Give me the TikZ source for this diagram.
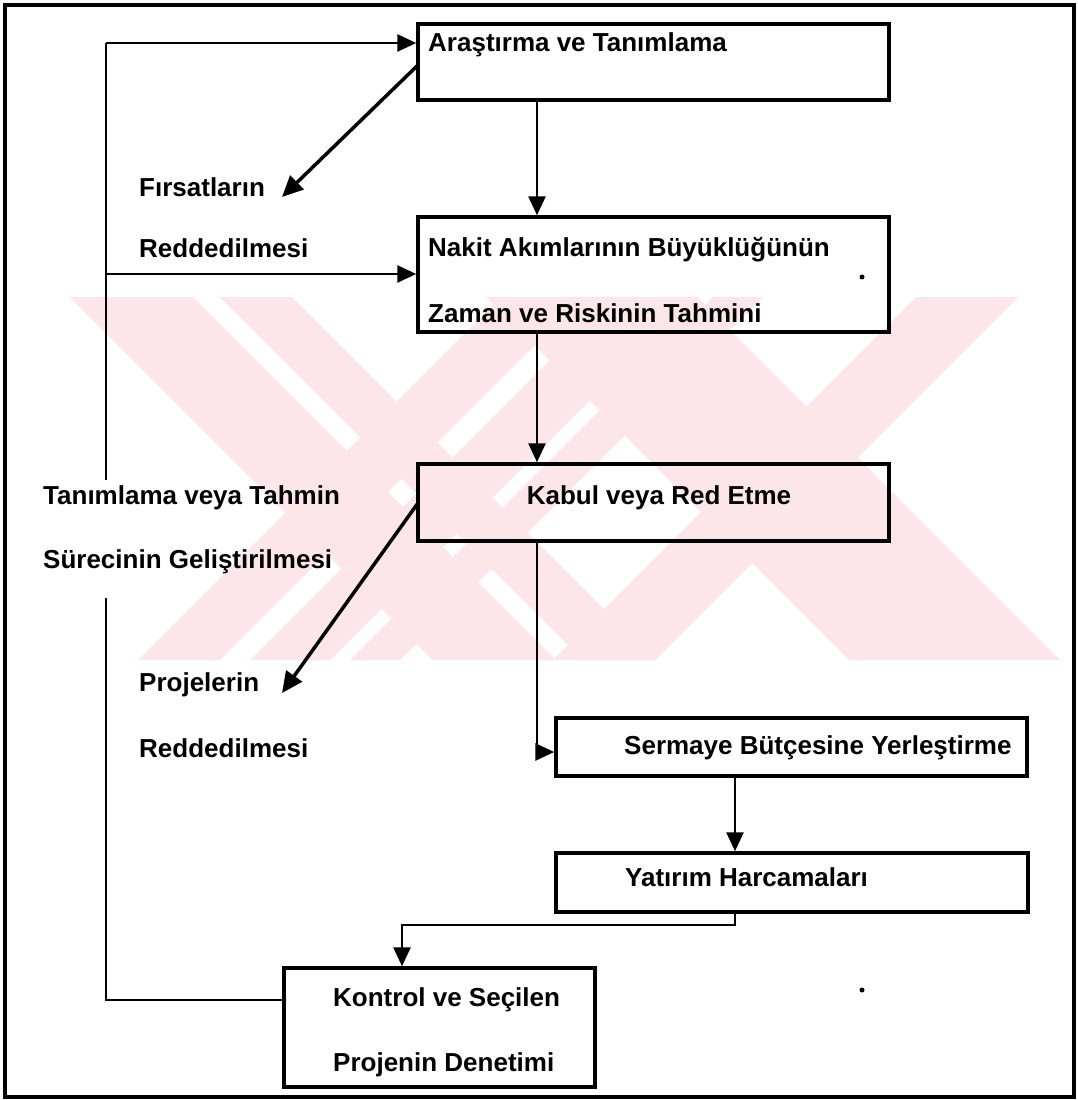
\documentclass[tikz,border=0pt]{standalone}
\usepackage{fontspec}
\setmainfont{Liberation Sans}
\usetikzlibrary{arrows.meta}
\definecolor{wmpink}{RGB}{252,230,234}
\begin{document}
\begin{tikzpicture}[x=1pt,y=-1pt,
  box/.style={draw=black,line width=3.5pt,rectangle,inner sep=0pt},
  lab/.style={font=\fontsize{26}{30}\selectfont\bfseries,inner sep=0pt,anchor=west},
  conn/.style={draw=black,line width=2.8pt,-{Triangle[length=19pt,width=17pt]}},
  plain/.style={draw=black,line width=2.8pt},
  diag/.style={draw=black,line width=3.5pt,-{Triangle[length=21pt,width=19pt]}}]
\useasboundingbox (0,0) rectangle (1077,1100);
\fill[white] (0,0) rectangle (1077,1100);
% faint watermark (diagonal stripes forming an X)
\begin{scope}
\clip (0,297) rectangle (1077,660);
\foreach \a/\b in {-227/-104,-77/-5,189/400}
  \fill[wmpink] (297+\a,297) -- (297+\b,297) -- (660+\b,660) -- (660+\a,660) -- cycle;
\foreach \a/\b in {798/880,910/990,1010/1060,1213/1315}
  \fill[wmpink] (\a-297,297) -- (\b-297,297) -- (\b-660,660) -- (\a-660,660) -- cycle;
\end{scope}
% outer frame
\node[draw=black,line width=4.5pt,minimum width=1069pt,minimum height=1092pt,inner sep=0pt] (frame) at (539.5,551) {};
% boxes
\node[box,minimum width=471pt,minimum height=76pt] (b1) at (653.5,62) {};
\node[box,minimum width=471pt,minimum height=115pt] (b2) at (653.5,274.5) {};
\node[box,minimum width=471pt,minimum height=77pt] (b3) at (653.5,502.5) {};
\node[box,minimum width=471pt,minimum height=58pt] (b4) at (791.5,747) {};
\node[box,minimum width=472pt,minimum height=59pt] (b5) at (792,882.5) {};
\node[box,minimum width=311pt,minimum height=119pt] (b6) at (439.5,1027.5) {};
% box texts
\node[lab] (t1) at (428,45) {Araştırma ve Tanımlama};
\node[lab] (t2a) at (428,250) {Nakit Akımlarının Büyüklüğünün};
\node[lab] (t2b) at (428,313) {Zaman ve Riskinin Tahmini};
\node[lab,anchor=center] (t3) at (659,498) {Kabul veya Red Etme};
\node[lab] (t4) at (624,748) {Sermaye Bütçesine Yerleştirme};
\node[lab] (t5) at (625,877) {Yatırım Harcamaları};
\node[lab] (t6a) at (333,1000) {Kontrol ve Seçilen};
\node[lab] (t6b) at (333,1065) {Projenin Denetimi};
% side texts
\node[lab] (f1) at (139,187) {Fırsatların};
\node[lab] (f2) at (139,248) {Reddedilmesi};
\node[lab] (p1) at (139,685) {Projelerin};
\node[lab] (p2) at (139,748) {Reddedilmesi};
\node[lab] (g1) at (43,498) {Tanımlama veya Tahmin};
\node[lab] (g2) at (43,562) {Sürecinin Geliştirilmesi};
% coordinates
\coordinate (d1s) at (418,65);
\coordinate (d1e) at (282,197);
\coordinate (d2s) at (418,503);
\coordinate (d2e) at (282,693);
\coordinate (fbtop) at (106,43);
\coordinate (fbmid) at (106,274);
\coordinate (fbgapT) at (106,480);
\coordinate (fbgapB) at (106,598);
\coordinate (fbbot) at (106,1000);
% main flow
\draw[conn] (b1.south -| 537,0) -- (b2.north -| 537,0);
\draw[conn] (b2.south -| 537,0) -- (b3.north -| 537,0);
\draw[conn] (b3.south -| 537,0) -- (537,752) -- (b4.west |- 0,752);
\draw[conn] (b4.south -| 735,0) -- (b5.north -| 735,0);
\draw[conn] (b5.south -| 735,0) -- (735,925) -- (402,925) -- (b6.north -| 402,0);
% rejection arrows
\draw[diag] (d1s) -- (d1e);
\draw[diag] (d2s) -- (d2e);
% feedback loop
\draw[plain] (b6.west |- 0,1000) -- (fbbot) -- (fbgapB);
\draw[plain] (fbgapT) -- (fbtop);
\draw[conn] (fbtop) -- (b1.west |- fbtop);
\draw[conn] (fbmid) -- (b2.west |- fbmid);
% scan specks
\fill[black] (862,277) circle (2.5pt);
\fill[black] (862,990) circle (2.5pt);
\end{tikzpicture}
\end{document}
